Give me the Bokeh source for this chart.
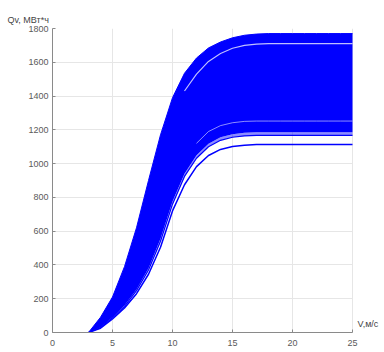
from bokeh.plotting import figure
from bokeh.models import Range1d, Label, FixedTicker
from bokeh.embed import file_html
from bokeh.resources import INLINE

# wind speed, m/s
v = [3, 4, 5, 6, 7, 8, 9, 10, 11, 12, 13, 14, 15, 16, 17, 18, 19, 20, 21, 22, 23, 24, 25]

# upper edge of the band of curves (MWh)
q_top = [0, 90, 210, 390, 620, 900, 1170, 1390, 1535, 1625, 1685, 1720, 1745, 1760, 1767,
         1770, 1770, 1770, 1770, 1770, 1770, 1770, 1770]
# lower edge of the dense band
q_dense_low = [0, 30, 90, 160, 255, 380, 555, 775, 940, 1050, 1118, 1156, 1174, 1182, 1186,
               1186, 1186, 1186, 1186, 1186, 1186, 1186, 1186]
# separate curve just below the dense band
q_1167 = [0, 28, 87, 155, 248, 370, 540, 760, 924, 1032, 1100, 1138, 1156, 1164, 1167,
          1167, 1167, 1167, 1167, 1167, 1167, 1167, 1167]
# lowest curve
q_low = [0, 25, 80, 145, 230, 345, 505, 720, 875, 982, 1048, 1084, 1101, 1109, 1113,
         1113, 1113, 1113, 1113, 1113, 1113, 1113, 1113]

# visible gaps inside the band
v_gap_hi = [11, 12, 13, 14, 15, 16, 17, 18, 19, 20, 21, 22, 23, 24, 25]
q_gap_hi = [1430, 1530, 1605, 1652, 1683, 1700, 1707, 1710, 1710, 1710, 1710, 1710, 1710, 1710, 1710]
v_gap_lo = [12, 13, 14, 15, 16, 17, 18, 19, 20, 21, 22, 23, 24, 25]
q_gap_lo = [1120, 1190, 1225, 1242, 1250, 1252, 1252, 1252, 1252, 1252, 1252, 1252, 1252, 1252]

x_ticks = [0, 5, 10, 15, 20, 25]
y_ticks = [0, 200, 400, 600, 800, 1000, 1200, 1400, 1600, 1800]

BLUE = "#0000ff"
FONT = "Liberation Sans"
GREY = "#5a5a5a"

p = figure(width=384, height=352, output_backend="svg", toolbar_location=None,
           x_range=Range1d(0, 27.667), y_range=Range1d(0, 1800),
           min_border_left=52, min_border_right=0, min_border_top=28, min_border_bottom=20,
           title="Qv, МВт*ч")
p.outline_line_color = None
p.background_fill_color = "white"
p.border_fill_color = "white"

p.title.align = "left"
p.title.offset = -45
p.title.standoff = 8
p.title.text_font = FONT
p.title.text_font_size = "9px"
p.title.text_font_style = "normal"
p.title.text_color = "#444444"

p.xaxis.ticker = FixedTicker(ticks=x_ticks)
p.yaxis.ticker = FixedTicker(ticks=y_ticks)
p.xaxis.bounds = (x_ticks[0], x_ticks[-1])
for ax in (p.xaxis, p.yaxis):
    ax.axis_line_color = "#8a8a8a"
    ax.major_tick_line_color = "#8a8a8a"
    ax.major_tick_in = 3
    ax.major_tick_out = 0
    ax.minor_tick_line_color = None
    ax.major_label_text_font = FONT
    ax.major_label_text_font_size = "9px"
    ax.major_label_text_color = GREY
p.yaxis.major_label_standoff = 4
p.xaxis.major_label_standoff = 7
p.xgrid.grid_line_color = "#e6e6e6"
p.ygrid.grid_line_color = "#e6e6e6"
p.ygrid.cross_bounds = (x_ticks[0], x_ticks[-1])

# band
p.varea(x=v, y1=q_dense_low, y2=q_top, fill_color=BLUE)
p.line(v, q_top, line_color=BLUE, line_width=1)
p.varea(x=v, y1=q_1167, y2=q_dense_low, fill_color=BLUE, fill_alpha=0.45)
p.line(v, q_1167, line_color=BLUE, line_width=1.2)
p.line(v, q_low, line_color=BLUE, line_width=1.5)
p.line(v_gap_hi, q_gap_hi, line_color="white", line_width=1.2, line_alpha=0.75)
p.line(v_gap_lo, q_gap_lo, line_color="white", line_width=1, line_alpha=0.55)

p.add_layout(Label(x=25, y=0, x_offset=5, y_offset=9, text="V,м/с",
                   text_font=FONT, text_font_size="9px", text_color="#444444",
                   text_baseline="middle"))

open("out.html", "w").write(file_html(p, INLINE))
